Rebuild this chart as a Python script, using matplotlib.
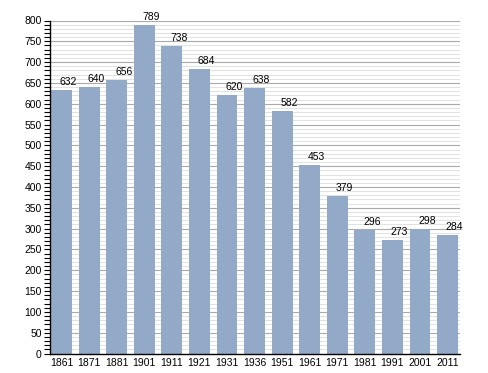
import matplotlib.pyplot as plt
from matplotlib.ticker import MultipleLocator
from matplotlib.transforms import offset_copy

#--- data
years = ['1861', '1871', '1881', '1901', '1911', '1921', '1931', '1936',
         '1951', '1961', '1971', '1981', '1991', '2001', '2011']
population = [632, 640, 656, 789, 738, 684, 620, 638,
              582, 453, 379, 296, 273, 298, 284]

plt.rcParams['font.family'] = ['Liberation Sans', 'DejaVu Sans']
plt.rcParams['font.size'] = 7.5

fig = plt.figure(figsize=(4.88, 3.73), dpi=100)
ax = fig.add_axes([50/488, 1 - 353.5/373, 410/488, 333/373])

xs = list(range(len(years)))
ax.bar(xs, population, width=0.76, color='#92aac7', zorder=3)

#--- value labels, slightly to the right of bar centre
trans = offset_copy(ax.transData, fig=fig, x=7, y=3, units='dots')
for x, v in zip(xs, population):
    ax.text(x, v, str(v), ha='center', va='bottom', transform=trans, zorder=4)

ax.set_xlim(-0.42, 14.45)
ax.set_ylim(0, 800)
ax.set_xticks(xs)
ax.set_xticklabels(years)
ax.tick_params(axis='x', length=0, pad=3)
ax.yaxis.set_major_locator(MultipleLocator(50))
ax.yaxis.set_minor_locator(MultipleLocator(10))
ax.tick_params(axis='y', which='both', direction='out', length=4, width=0.8, pad=2)

ax.grid(axis='y', which='major', color='#aaaaaa', linewidth=0.8, zorder=0)
ax.grid(axis='y', which='minor', color='#dddddd', linewidth=0.6, zorder=0)

for side in ['top', 'right']:
    ax.spines[side].set_visible(False)
ax.spines['left'].set_linewidth(1)
ax.spines['bottom'].set_linewidth(1)
ax.spines['left'].set_zorder(5)
ax.spines['bottom'].set_zorder(5)

fig.savefig('out.png', dpi=100)
